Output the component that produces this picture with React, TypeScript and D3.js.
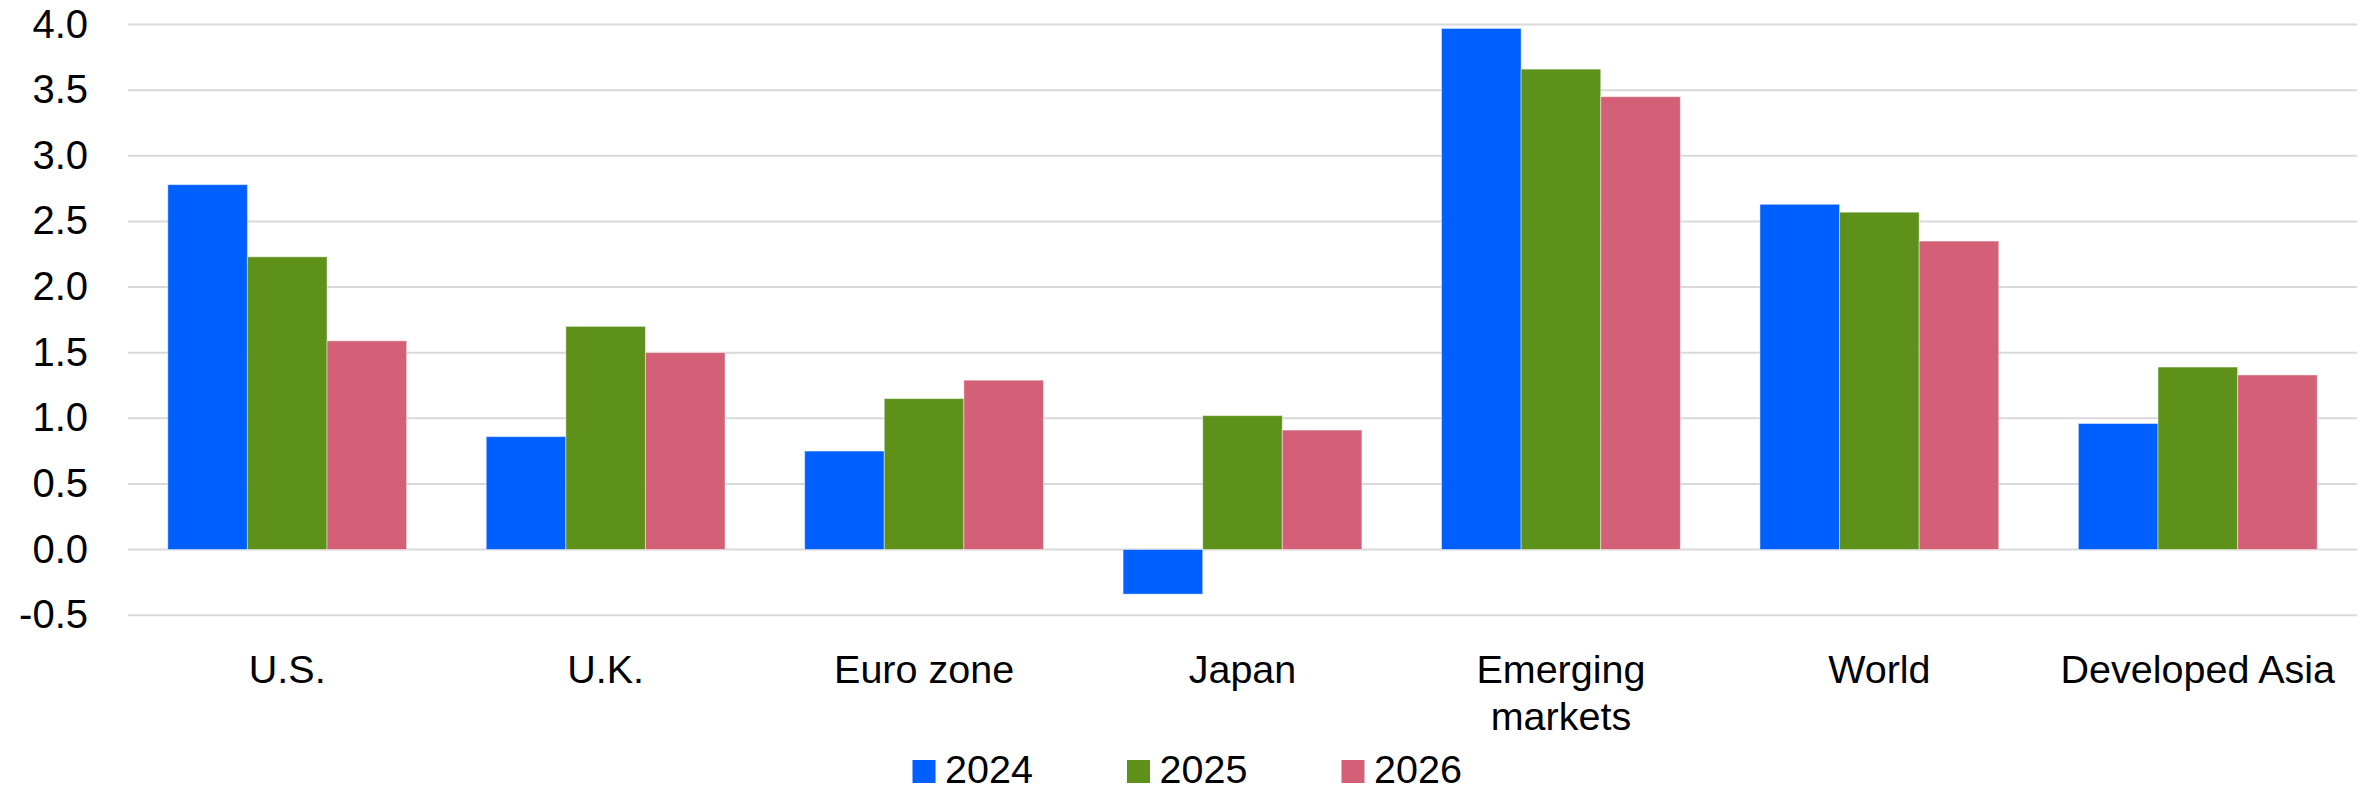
import React from "react";
import * as d3 from "d3";

const categories = ["U.S.", "U.K.", "Euro zone", "Japan", "Emerging markets", "World", "Developed Asia"];
const seriesNames = ["2024", "2025", "2026"];
const values2024 = [2.78, 0.86, 0.75, -0.34, 3.97, 2.63, 0.96];
const values2025 = [2.23, 1.7, 1.15, 1.02, 3.66, 2.57, 1.39];
const values2026 = [1.59, 1.5, 1.29, 0.91, 3.45, 2.35, 1.33];
const yTicks = [-0.5, 0, 0.5, 1.0, 1.5, 2.0, 2.5, 3.0, 3.5, 4.0];

const colors = ["#0060FF", "#5D911A", "#D36077"];
const series = [values2024, values2025, values2026];

const W = 2371;
const H = 791;
const left = 128;
const right = 2357;

export default function App() {
  const x0 = d3
    .scaleBand<string>()
    .domain(categories)
    .range([left, right])
    .paddingInner(0.25)
    .paddingOuter(0.125);
  const x1 = d3.scaleBand<string>().domain(seriesNames).range([0, x0.bandwidth()]);
  const y = d3.scaleLinear().domain([0, 4]).range([549.5, 24.5]);

  const font = "'Liberation Sans', Arial, sans-serif";
  const fmt = (t: number) => d3.format(".1f")(t).replace("\u2212", "-");

  return (
    <svg
      width={W}
      height={H}
      style={{ position: "absolute", left: 0, top: 0, background: "#fff" }}
      xmlns="http://www.w3.org/2000/svg"
    >
      <rect x={0} y={0} width={W} height={H} fill="#fff" />
      {yTicks.map((t) => (
        <g key={t}>
          <line x1={left} x2={right} y1={y(t)} y2={y(t)} stroke="#D9D9D9" strokeWidth={2} />
          <text
            x={88}
            y={y(t) + 13}
            textAnchor="end"
            fontFamily={font}
            fontSize={40}
            fill="#000"
          >
            {fmt(t)}
          </text>
        </g>
      ))}
      {categories.map((c, ci) => (
        <g key={c} transform={`translate(${x0(c)},0)`}>
          {seriesNames.map((s, si) => {
            const v = series[si][ci];
            const y0 = y(Math.max(0, v));
            const h = Math.abs(y(v) - y(0));
            return (
              <rect
                key={s}
                x={x1(s)}
                y={y0}
                width={x1.bandwidth()}
                height={h}
                fill={colors[si]}
                stroke="#ffffff"
                strokeOpacity={0.45}
                strokeWidth={1}
              />
            );
          })}
        </g>
      ))}
      {categories.map((c) => {
        const cx = (x0(c) as number) + x0.bandwidth() / 2;
        const words = c === "Emerging markets" ? ["Emerging", "markets"] : [c];
        return (
          <g key={c}>
            {words.map((w, i) => (
              <text
                key={w}
                x={cx}
                y={683.3 + i * 47}
                textAnchor="middle"
                fontFamily={font}
                fontSize={39.5}
                fill="#000"
              >
                {w}
              </text>
            ))}
          </g>
        );
      })}
      {seriesNames.map((s, i) => {
        const lx = 912.5 + i * 214.5;
        return (
          <g key={s}>
            <rect x={lx} y={760} width={23} height={23} fill={colors[i]} />
            <text
              x={lx + 32.5}
              y={782.5}
              fontFamily={font}
              fontSize={39.5}
              fill="#000"
            >
              {s}
            </text>
          </g>
        );
      })}
    </svg>
  );
}
